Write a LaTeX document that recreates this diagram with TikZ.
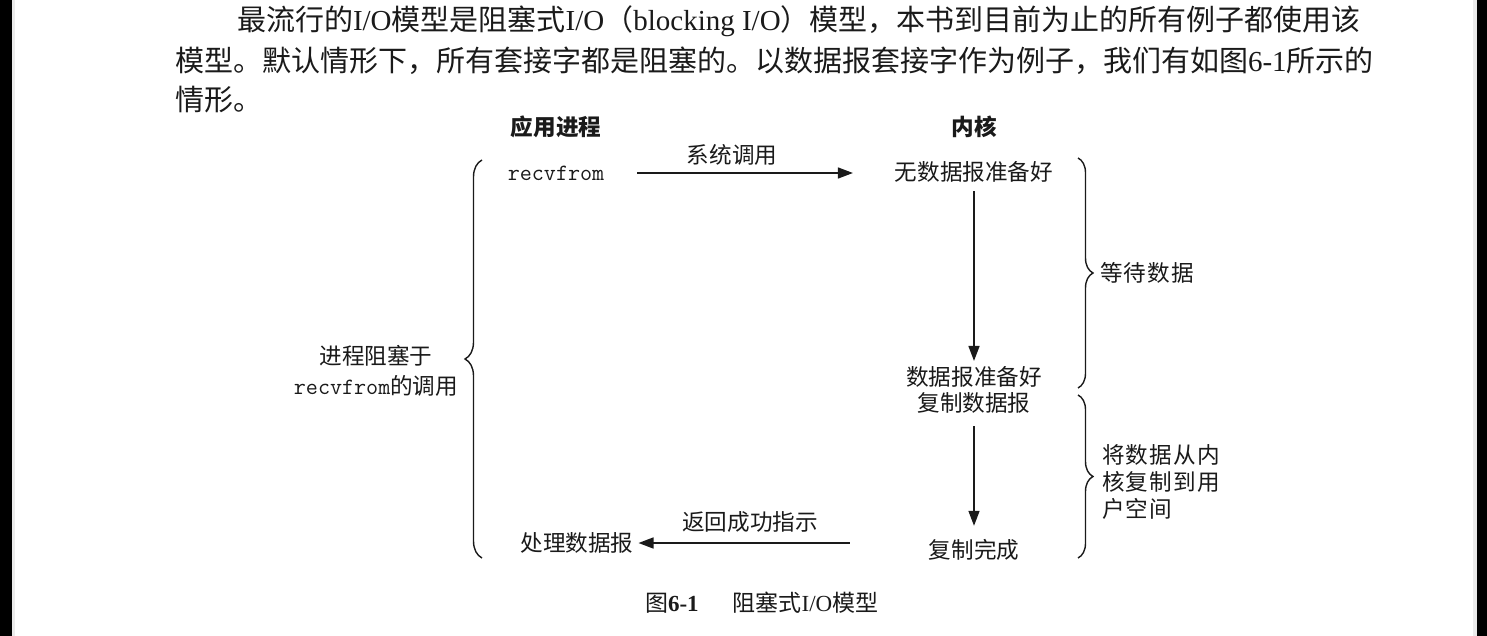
\documentclass[tikz,border=0pt]{standalone}
\usepackage{fontspec}
\setmainfont{Noto Sans CJK SC}
\newfontfamily\lat{Liberation Serif}
\usetikzlibrary{arrows.meta,decorations.pathreplacing}
\definecolor{ink}{HTML}{1A1A1A}
\begin{document}
\begin{tikzpicture}[x=0.5pt,y=-0.5pt,
  every node/.style={inner sep=0pt,outer sep=0pt,text=ink},
  para/.style={anchor=west,font=\fontsize{14.5}{18}\selectfont},
  lbl/.style={font=\fontsize{11.3}{14}\selectfont},
  head/.style={font=\fontsize{11.3}{14}\selectfont\bfseries},
  code/.style={font=\fontsize{11.7}{14}\ttfamily},
  arr/.style={draw=ink,line width=0.75pt,-{Triangle[length=7.5pt,width=5.5pt]}},
  bracestyle/.style={draw=ink,line width=0.7pt,decorate}]
\useasboundingbox (0,0) rectangle (1487,636);
\fill[white] (0,0) rectangle (1487,636);
% dark scan edges
\fill[black] (0,0) rectangle (12,636);
\fill[black] (1477,0) rectangle (1487,636);
\fill[black!8] (12,0) rectangle (15,636);
\fill[black!8] (1473,0) rectangle (1477,636);

% paragraph above the figure
\node[para] (p1) at (237,21) {最流行的{\lat I/O}模型是阻塞式{\lat I/O}（{\lat blocking I/O}）模型，本书到目前为止的所有例子都使用该};
\node[para] (p2) at (175,61) {模型。默认情形下，所有套接字都是阻塞的。以数据报套接字作为例子，我们有如图{\lat 6-1}所示的};
\node[para] (p3) at (175,100) {情形。};

% column headings
\node[head] (app) at (556,127) {应用进程};
\node[head] (kern) at (974,127) {内核};

% application side
\node[code] (recv) at (556,173) {recvfrom};
\node[lbl] (proc) at (577,543) {处理数据报};
\node[lbl,align=center] (blk) at (376,371)
  {进程阻塞于\\[1.2pt]{\fontsize{11.7}{14}\ttfamily recvfrom}的调用};

% kernel side
\node[lbl] (nodata) at (974,172) {无数据报准备好};
\node[lbl] (ready) at (974,377) {数据报准备好};
\node[lbl] (copy) at (974,403) {复制数据报};
\node[lbl] (done) at (974,550) {复制完成};

% arrow labels
\node[lbl] (sys) at (732,155) {系统调用};
\node[lbl] (ret) at (750,522) {返回成功指示};

% arrows
\draw[arr,shorten <=16.5pt,shorten >=21pt] (recv.east) -- (recv.east -| nodata.west);
\draw[arr,shorten <=4.5pt,shorten >=2.8pt] (nodata.south) -- (ready.north);
\draw[arr,shorten <=6.3pt,shorten >=6.8pt] (copy.south) -- (done.north);
\draw[arr,shorten <=39.5pt,shorten >=2.5pt] (proc.east -| done.west) -- (proc.east);

% braces
\coordinate (lbA) at (482,558);
\coordinate (lbB) at (482,160);
\draw[bracestyle,decoration={brace,amplitude=8.5pt}] (lbA) -- (lbB);
\coordinate (rbA) at (1078,158);
\coordinate (rbB) at (1078,388);
\draw[bracestyle,decoration={brace,amplitude=7.5pt}] (rbA) -- (rbB);
\coordinate (rcA) at (1078,395);
\coordinate (rcB) at (1078,558);
\draw[bracestyle,decoration={brace,amplitude=7.5pt}] (rcA) -- (rcB);

% brace labels
\node[lbl,anchor=west] (wait) at (1100,273) {\addfontfeature{LetterSpace=6}等待数据};
\node[lbl,anchor=west,align=left,font=\fontsize{11.3}{13.7}\selectfont] (cp) at (1102,482)
  {\addfontfeature{LetterSpace=6}将数据从内\\\addfontfeature{LetterSpace=6}核复制到用\\\addfontfeature{LetterSpace=6}户空间};

% caption
\node[lbl,anchor=west,font=\fontsize{11.5}{14}\selectfont] (cap) at (645,603)
  {图{\lat\bfseries 6-1}\hspace{17pt}阻塞式{\lat I/O}模型};
\end{tikzpicture}
\end{document}
